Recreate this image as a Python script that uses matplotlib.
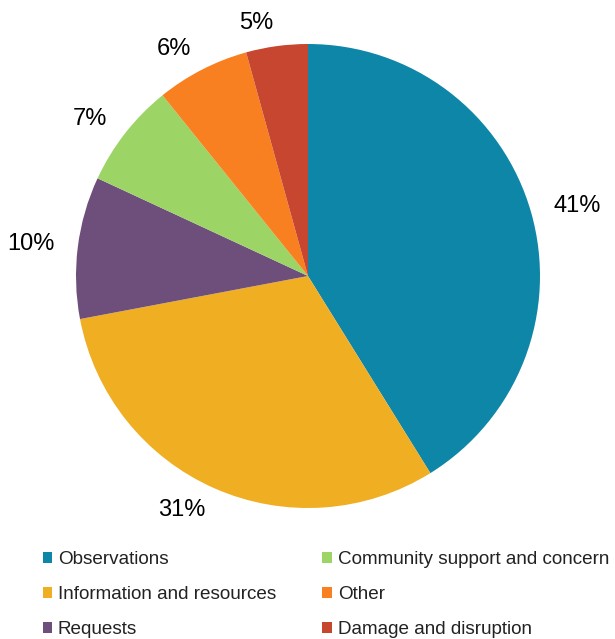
import matplotlib.pyplot as plt
from matplotlib.patches import Patch

plt.rcParams['font.family'] = ['Liberation Sans', 'DejaVu Sans']

# share of responses by category
categories = ['Observations', 'Information and resources', 'Requests',
              'Community support and concern', 'Other', 'Damage and disruption']
shares = [41.2, 30.9, 9.9, 7.3, 6.5, 4.3]
pct_labels = ['41%', '31%', '10%', '7%', '6%', '5%']
colors = ['#0E86A8', '#F0AE22', '#6E4E7A', '#9DD466', '#F98020', '#C7462F']

fig = plt.figure(figsize=(6.15, 6.39), dpi=100)
ax = fig.add_axes([76 / 615, 131 / 639, 464 / 615, 464 / 639])

wedges, texts = ax.pie(shares, colors=colors, labels=pct_labels, startangle=90,
                       counterclock=False, labeldistance=1.1, radius=1,
                       textprops={'fontsize': 17, 'color': 'black'})
ax.set_xlim(-1, 1)
ax.set_ylim(-1, 1)
ax.set_aspect('equal')
ax.axis('off')

handles = [Patch(facecolor=c, edgecolor='none') for c in colors]
fig.legend(handles, categories, ncol=2, loc='upper left',
           bbox_to_anchor=(42.5 / 615, 1 - 551.5 / 639), frameon=False,
           fontsize=13.6, handlelength=0.5, handleheight=0.5, handletextpad=0.32,
           labelspacing=0.95, columnspacing=2.43, borderpad=0, borderaxespad=0,
           labelcolor='#222222')

fig.savefig('out.png', dpi=100)
